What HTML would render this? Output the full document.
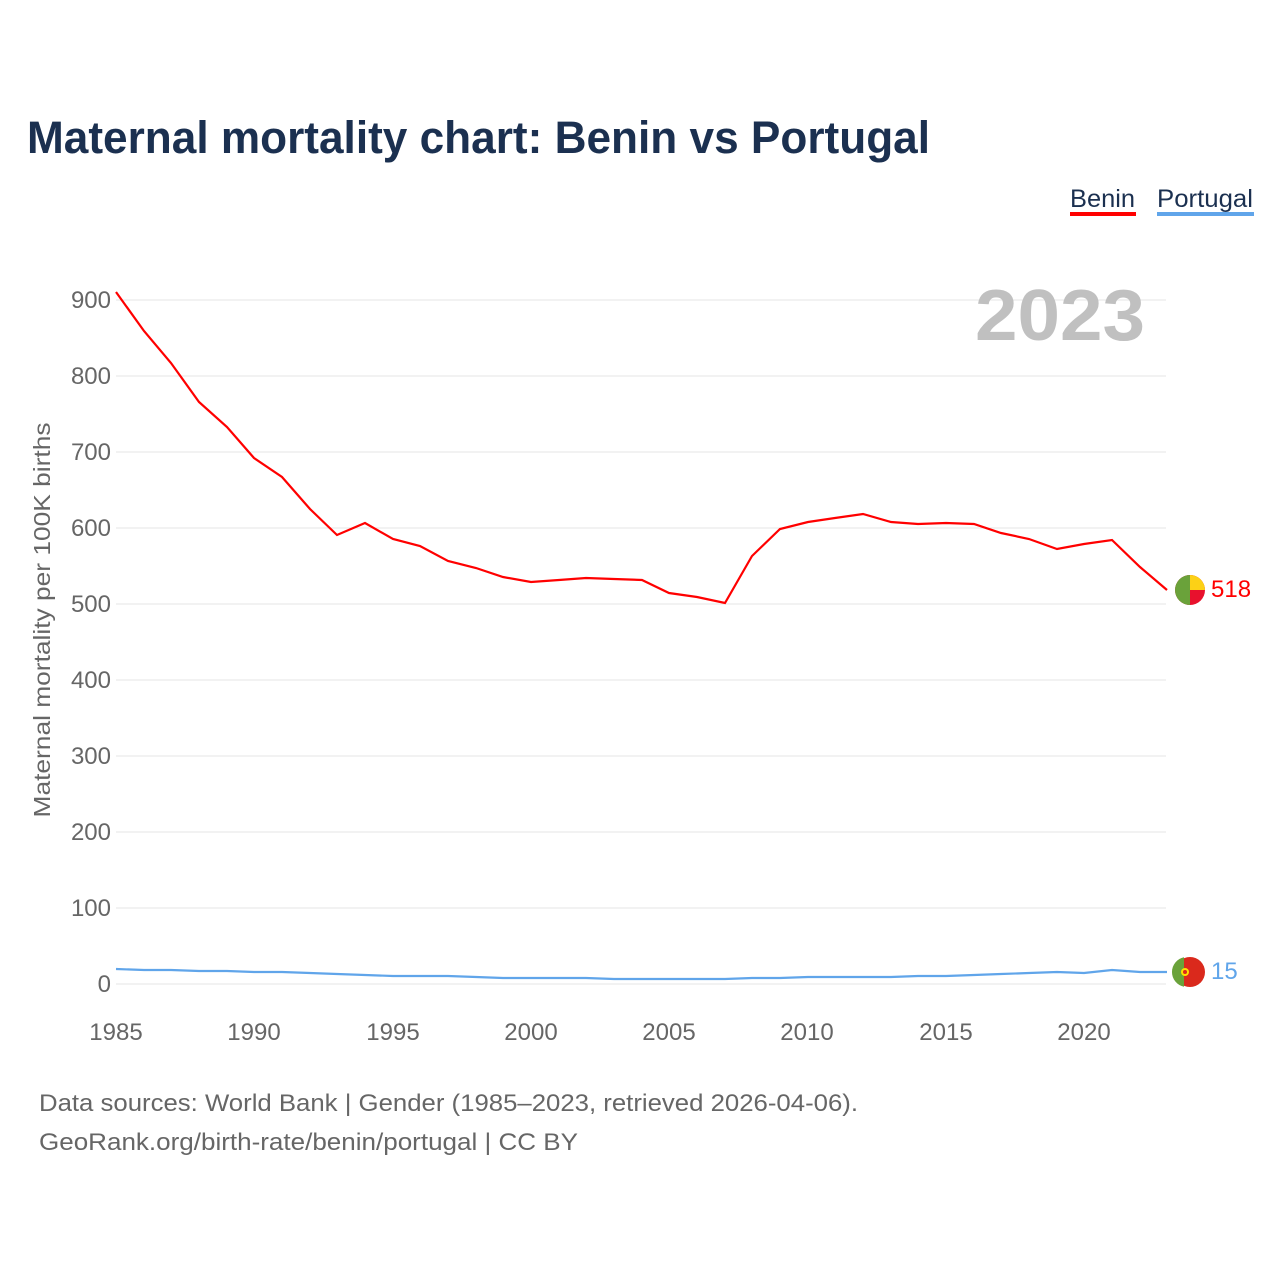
<!DOCTYPE html>
<html><head><meta charset="utf-8"><style>
body{margin:0;background:#fff;}
svg{display:block;font-family:"Liberation Sans",sans-serif;}
</style></head><body>
<svg width="1280" height="1280" viewBox="0 0 1280 1280">
<text x="27" y="153" font-size="45" font-weight="bold" fill="#1b3050" textLength="903" lengthAdjust="spacingAndGlyphs">Maternal mortality chart: Benin vs Portugal</text>
<text x="1070" y="207" font-size="25" fill="#1b3050" textLength="65" lengthAdjust="spacingAndGlyphs">Benin</text>
<rect x="1070" y="212" width="66" height="4" fill="#ff0000"/>
<text x="1157" y="207" font-size="25" fill="#1b3050" textLength="96" lengthAdjust="spacingAndGlyphs">Portugal</text>
<rect x="1157" y="212" width="97" height="4" fill="#60a5ea"/>
<g stroke="#e6e6e6" stroke-width="1">
<line x1="116" x2="1166" y1="300" y2="300"/><line x1="116" x2="1166" y1="376" y2="376"/>
<line x1="116" x2="1166" y1="452" y2="452"/><line x1="116" x2="1166" y1="528" y2="528"/>
<line x1="116" x2="1166" y1="604" y2="604"/><line x1="116" x2="1166" y1="680" y2="680"/>
<line x1="116" x2="1166" y1="756" y2="756"/><line x1="116" x2="1166" y1="832" y2="832"/>
<line x1="116" x2="1166" y1="908" y2="908"/><line x1="116" x2="1166" y1="984" y2="984"/>
</g>
<text x="1145" y="340" font-size="72" font-weight="bold" fill="#c0c0c0" text-anchor="end" textLength="170" lengthAdjust="spacingAndGlyphs">2023</text>
<g font-size="24" fill="#666" text-anchor="end">
<text x="111" y="308">900</text><text x="111" y="384">800</text><text x="111" y="460">700</text>
<text x="111" y="536">600</text><text x="111" y="612">500</text><text x="111" y="688">400</text>
<text x="111" y="764">300</text><text x="111" y="840">200</text><text x="111" y="916">100</text>
<text x="111" y="992">0</text>
</g>
<g font-size="24" fill="#666" text-anchor="middle">
<text x="116" y="1040">1985</text><text x="254" y="1040">1990</text><text x="393" y="1040">1995</text>
<text x="531" y="1040">2000</text><text x="669" y="1040">2005</text><text x="807" y="1040">2010</text>
<text x="946" y="1040">2015</text><text x="1084" y="1040">2020</text>
</g>
<text transform="translate(50,620) rotate(-90)" font-size="23" fill="#666" text-anchor="middle" textLength="395" lengthAdjust="spacingAndGlyphs">Maternal mortality per 100K births</text>
<polyline fill="none" stroke="#ff0000" stroke-width="2.2" points="116,292 144,331 171,363 199,402 227,427 254,458 282,477 310,509 337,535 365,523 393,539 420,546 448,561 476,568 503,577 531,582 559,580 586,578 614,579 642,580 669,593 697,597 725,603 752,556 780,529 808,522 835,518 863,514 891,522 918,524 946,523 974,524 1001,533 1029,539 1057,549 1084,544 1112,540 1140,567 1167,590"/>
<polyline fill="none" stroke="#60a5ea" stroke-width="2.2" points="116,969 144,970 171,970 199,971 227,971 254,972 282,972 310,973 337,974 365,975 393,976 420,976 448,976 476,977 503,978 531,978 559,978 586,978 614,979 642,979 669,979 697,979 725,979 752,978 780,978 808,977 835,977 863,977 891,977 918,976 946,976 974,975 1001,974 1029,973 1057,972 1084,973 1112,970 1140,972 1167,972"/>
<g>
<circle cx="1190" cy="590" r="15" fill="#e8112d"/>
<path d="M1190,590 L1205,590 A15,15 0 0 0 1190,575 Z" fill="#fcd116"/>
<path d="M1190,575 A15,15 0 0 0 1190,605 Z" fill="#6aa23a"/>
</g>
<g>
<circle cx="1190" cy="972" r="15" fill="#da291c"/>
<path d="M1184,957.3 A15,15 0 0 0 1184,986.7 Z" fill="#6aa23a"/>
<circle cx="1185" cy="972" r="4" fill="#ffe000"/>
<circle cx="1185" cy="972" r="2" fill="#da291c"/>
</g>
<text x="1211" y="597" font-size="24" fill="#ff0000">518</text>
<text x="1211" y="979" font-size="24" fill="#60a5ea">15</text>
<text x="39" y="1111" font-size="24" fill="#666" textLength="819" lengthAdjust="spacingAndGlyphs">Data sources: World Bank | Gender (1985–2023, retrieved 2026-04-06).</text>
<text x="39" y="1150" font-size="24" fill="#666" textLength="539" lengthAdjust="spacingAndGlyphs">GeoRank.org/birth-rate/benin/portugal | CC BY</text>
</svg>
</body></html>
